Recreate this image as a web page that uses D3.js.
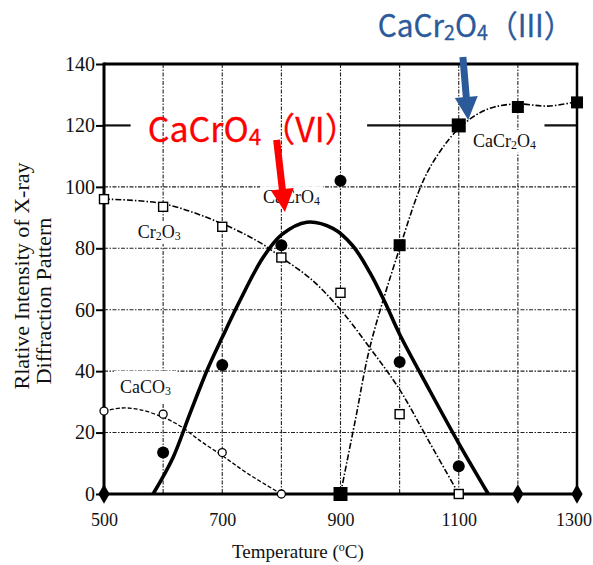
<!DOCTYPE html>
<html>
<head>
<meta charset="utf-8">
<script src="https://cdn.jsdelivr.net/npm/d3@7"></script>
<style>
  html, body { margin: 0; padding: 0; background: #fff; overflow: hidden; }
  svg { display: block; }
</style>
</head>
<body>
<svg id="chart" width="593" height="565"></svg>
<script>
// ---- measured relative intensities (X-ray diffraction) ----
const cr2o3Temps   = [500, 600, 700, 800, 900, 1000, 1100];
const cr2o3Vals    = [96, 93.5, 87, 77, 65.5, 26, 0];
const caco3Temps   = [500, 600, 700, 800];
const caco3Vals    = [27, 26, 13.5, 0];
const cacro4Temps  = [500, 600, 700, 800, 900, 1000, 1100, 1200, 1300];
const cacro4Vals   = [0, 13.5, 42, 81, 102, 43, 9, 0, 0];
const cacr2o4Temps = [900, 1000, 1100, 1200, 1300];
const cacr2o4Vals  = [0, 81, 120, 126, 127.5];

// ---- hand-drawn trend curves [temperature, intensity] ----
const cr2o3Trend = [[500,96],[600,94.5],[700,88],[767,81.5],[800,77],[850,70],[900,60],[950,47.5],[1000,34],[1050,17],[1100,0]];
const caco3Trend = [[500,27],[530,28],[560,27.5],[600,25],[630,22],[665,17],[700,12.5],[742,6.8],[800,0]];
const cacro4Trend = [[583,0],[617,12],[645,26],[676,41],[700,51],[730,63],[769,77],[801,84.5],[843,88.5],[887,86.5],[920,81],[950,72],[975,62.5],[1000,52],[1050,34],[1100,16.5],[1150,0]];
const cacr2o4Trend = [[900,0],[925,24],[950,48],[1000,80],[1040,102],[1070,112],[1100,119],[1130,123.5],[1160,126],[1200,127],[1250,126.3],[1300,127.6],[1308,127.6]];

// ---- axes ----
const xTicks = [500, 700, 900, 1100, 1300];
const xTickLabels = ["500", "700", "900", "1100", "1300"];
const xGrid = [600, 700, 800, 900, 1000, 1100, 1200];
const yTicks = [0, 20, 40, 60, 80, 100, 120, 140];
const yGrid = [20, 40, 60, 80, 100];
// the 120 row is only drawn in pieces: [from, to] temperatures
const row120Spans = [[500, 545], [945, 1100], [1245, 1300]];
const xTitle = "Temperature (";
const yTitle1 = "Rlative Intensity of X-ray";
const yTitle2 = "Diffraction Pattern";

// ---- in-plot compound labels: parts [text, isSubscript], anchor [temp, intensity] ----
const seriesLabels = [
  { parts: [["Cr", 0], ["2", 1], ["O", 0], ["3", 1]], at: [557, 83.3], pad: [4, 1] },
  { parts: [["CaCO", 0], ["3", 1]], at: [527, 32.9], pad: [6, 6] },
  { parts: [["CaCrO", 0], ["4", 1]], at: [769, 94.7], pad: [3, 1] },
  { parts: [["CaCr", 0], ["2", 1], ["O", 0], ["4", 1]], at: [1124, 113], pad: [3, 1] }
];

// ---- highlighted annotations ----
const notes = [
  { parts: [["CaCrO", 0], ["4", 1], ["（VI）", 0]], at: [574, 114.6], color: "#ff0000", size: 34, sx: 1.0,
    arrow: { from: [792, 115.3], to: [806, 91.8] } },
  { parts: [["CaCr", 0], ["2", 1], ["O", 0], ["4", 1], ["（III）", 0]], at: [963, 148.8], color: "#2b5a9a", size: 31, sx: 0.96,
    arrow: { from: [1107, 142.3], to: [1116, 121.8] } }
];

const svg = d3.select("#chart");
const W = 593, H = 565;
const plot = { left: 104, top: 64, right: 577, bottom: 494 };

const x = d3.scaleLinear().domain([500, 1300]).range([plot.left, plot.right]);
const y = d3.scaleLinear().domain([0, 140]).range([plot.bottom, plot.top]);

const serif = "'Liberation Serif', 'Times New Roman', serif";
const gridColor = "#222";

// grid
const grid = svg.append("g").attr("class", "grid")
  .attr("stroke", gridColor).attr("stroke-width", 1.1).attr("fill", "none")
  .attr("stroke-dasharray", "4,1.5,1.5,1.5");
grid.selectAll("line.v").data(xGrid).join("line").attr("class", "v")
  .attr("x1", d => x(d)).attr("x2", d => x(d))
  .attr("y1", y(140)).attr("y2", y(0));
grid.selectAll("line.h").data(yGrid).join("line").attr("class", "h")
  .attr("y1", d => y(d)).attr("y2", d => y(d))
  .attr("x1", x(500)).attr("x2", x(1300));
svg.append("g").attr("stroke", "#111").attr("stroke-width", 2.2)
  .selectAll("line").data(row120Spans).join("line")
  .attr("y1", y(120)).attr("y2", y(120))
  .attr("x1", d => x(d[0])).attr("x2", d => x(d[1]));

// compound labels with a white backing that breaks the grid behind them
function writeParts(textSel, parts, size) {
  parts.forEach(([t, sub], i) => {
    const ts = textSel.append("tspan").text(t);
    if (sub) {
      ts.attr("font-size", size * 0.66).attr("dy", size * 0.1);
    } else if (i > 0 && parts[i - 1][1]) {
      ts.attr("dy", -size * 0.1);
    }
  });
}

const labelLayer = svg.append("g");
seriesLabels.forEach(lab => {
  const g = labelLayer.append("g");
  const t = g.append("text")
    .attr("x", x(lab.at[0])).attr("y", y(lab.at[1]))
    .attr("font-family", serif).attr("font-size", 18).attr("fill", "#111");
  writeParts(t, lab.parts, 18);
  const bb = t.node().getBBox();
  g.insert("rect", "text")
    .attr("x", bb.x - lab.pad[0]).attr("y", bb.y - lab.pad[1])
    .attr("width", bb.width + 2 * lab.pad[0]).attr("height", bb.height + 2 * lab.pad[1])
    .attr("fill", "#fff");
});

// trend curves
const line = d3.line().x(d => x(d[0])).y(d => y(d[1])).curve(d3.curveCatmullRom.alpha(0.5));
const curves = svg.append("g").attr("fill", "none").attr("stroke", "#000");
curves.append("path").datum(cr2o3Trend).attr("d", line)
  .attr("stroke-width", 1.6).attr("stroke-dasharray", "6,2,1.5,2");
curves.append("path").datum(caco3Trend).attr("d", line)
  .attr("stroke-width", 1.3).attr("stroke-dasharray", "4,2");
curves.append("path").datum(cacr2o4Trend).attr("d", line)
  .attr("stroke-width", 1.6).attr("stroke-dasharray", "6,2,1.5,2");
curves.append("path").datum(cacro4Trend).attr("d", line)
  .attr("stroke-width", 3.6).attr("stroke-linejoin", "round");

// axes frame
const axisG = svg.append("g");
const yAxis = d3.axisLeft(y).tickValues(yTicks).tickSize(8).tickPadding(1).tickFormat(d3.format("d"));
const ya = axisG.append("g").attr("transform", `translate(${plot.left},0)`).call(yAxis);
ya.select(".domain").remove();
ya.selectAll(".tick line").attr("stroke", "#000").attr("stroke-width", 2);
ya.selectAll(".tick text").attr("font-family", serif).attr("font-size", 20).attr("fill", "#111");

const xAxis = d3.axisBottom(x).tickValues(xTicks).tickSize(0).tickPadding(19)
  .tickFormat((d, i) => xTickLabels[i]);
const xa = axisG.append("g").attr("transform", `translate(0,${plot.bottom})`).call(xAxis);
xa.select(".domain").remove();
xa.selectAll(".tick text").attr("font-family", serif).attr("font-size", 18).attr("fill", "#111")
  .each(function () {
    // keep the rightmost label inside the page
    const bb = this.getBBox();
    const tick = this.parentNode.transform.baseVal.consolidate().matrix.e;
    const over = tick + bb.x + bb.width - (W - 1);
    if (over > 0) d3.select(this).attr("x", -over);
  });

const frame = axisG.append("g").attr("stroke", "#000").attr("stroke-width", 3).attr("fill", "none");
frame.append("line").attr("x1", x(500)).attr("x2", x(500)).attr("y1", y(140) - 1.5).attr("y2", y(0) + 1.5);
frame.append("line").attr("x1", x(500)).attr("x2", x(1300)).attr("y1", y(0)).attr("y2", y(0));
frame.append("line").attr("x1", x(500)).attr("x2", x(1300) + 1.5).attr("y1", y(140)).attr("y2", y(140));
frame.append("line").attr("x1", x(1300)).attr("x2", x(1300)).attr("y1", y(140)).attr("y2", y(0)).attr("stroke-width", 2.5);

// markers
const pts = (ts, vs) => ts.map((t, i) => [t, vs[i]]);
const mk = svg.append("g");
mk.selectAll("rect.cr2o3").data(pts(cr2o3Temps, cr2o3Vals)).join("rect")
  .attr("x", d => x(d[0]) - 4.5).attr("y", d => y(d[1]) - 4.5)
  .attr("width", 9).attr("height", 9)
  .attr("fill", "#fff").attr("stroke", "#000").attr("stroke-width", 1.4);
mk.selectAll("circle.caco3").data(pts(caco3Temps, caco3Vals)).join("circle")
  .attr("cx", d => x(d[0])).attr("cy", d => y(d[1])).attr("r", 4)
  .attr("fill", "#fff").attr("stroke", "#000").attr("stroke-width", 1.3);
const big = d => d[0] === 1100 || d[1] === 0;
mk.selectAll("rect.cacr2o4").data(pts(cacr2o4Temps, cacr2o4Vals)).join("rect")
  .attr("x", d => x(d[0]) - (big(d) ? 7 : 6))
  .attr("y", d => y(d[1]) - (big(d) ? 7 : 6))
  .attr("width", d => (big(d) ? 14 : 12))
  .attr("height", d => (big(d) ? 14 : 12))
  .attr("fill", "#000");
const cro4 = pts(cacro4Temps, cacro4Vals);
mk.selectAll("circle.cacro4").data(cro4.filter(d => d[1] > 0)).join("circle")
  .attr("cx", d => x(d[0])).attr("cy", d => y(d[1])).attr("r", 6).attr("fill", "#000");
mk.selectAll("path.zero").data(cro4.filter(d => d[1] === 0)).join("path")
  .attr("transform", d => `translate(${x(d[0])},${y(d[1])})`)
  .attr("d", d3.symbol(d3.symbolDiamond, 110)).attr("fill", "#000");

// axis titles
const xt = svg.append("text").attr("x", 232).attr("y", 558)
  .attr("font-family", serif).attr("font-size", 19).attr("fill", "#111").text(xTitle);
xt.append("tspan").attr("font-size", 12).attr("dy", -7).text("o");
xt.append("tspan").attr("dy", 7).text("C)");

svg.append("text").attr("transform", "translate(29,276) rotate(-90)")
  .attr("text-anchor", "middle").attr("font-family", serif).attr("font-size", 21).attr("fill", "#111")
  .attr("textLength", 227).attr("lengthAdjust", "spacingAndGlyphs").text(yTitle1);
svg.append("text").attr("transform", "translate(51,301) rotate(-90)")
  .attr("text-anchor", "middle").attr("font-family", serif).attr("font-size", 21).attr("fill", "#111")
  .attr("textLength", 167).attr("lengthAdjust", "spacingAndGlyphs").text(yTitle2);

// highlighted annotations with arrows
function arrowPath(p0, p1, shaft, headW, headL) {
  const dx = p1[0] - p0[0], dy = p1[1] - p0[1];
  const len = Math.hypot(dx, dy);
  const ux = dx / len, uy = dy / len, nx = -uy, ny = ux;
  const bx = p1[0] - ux * headL, by = p1[1] - uy * headL;
  const P = [
    [p0[0] + nx * shaft / 2, p0[1] + ny * shaft / 2],
    [bx + nx * shaft / 2, by + ny * shaft / 2],
    [bx + nx * headW / 2, by + ny * headW / 2],
    [p1[0], p1[1]],
    [bx - nx * headW / 2, by - ny * headW / 2],
    [bx - nx * shaft / 2, by - ny * shaft / 2],
    [p0[0] - nx * shaft / 2, p0[1] - ny * shaft / 2]
  ];
  return "M" + P.map(p => p.join(",")).join("L") + "Z";
}

const cjk = "'Noto Sans CJK JP', 'Noto Sans', sans-serif";
notes.forEach(n => {
  const t = svg.append("text")
    .attr("transform", `translate(${x(n.at[0])},${y(n.at[1])}) scale(${n.sx},1)`)
    .attr("font-family", cjk).attr("font-size", n.size).attr("fill", n.color)
    .attr("stroke", n.color).attr("stroke-width", 0.3);
  writeParts(t, n.parts, n.size);
  svg.append("path")
    .attr("d", arrowPath([x(n.arrow.from[0]), y(n.arrow.from[1])], [x(n.arrow.to[0]), y(n.arrow.to[1])], 7, 23, 23))
    .attr("fill", n.color);
});
</script>
</body>
</html>
